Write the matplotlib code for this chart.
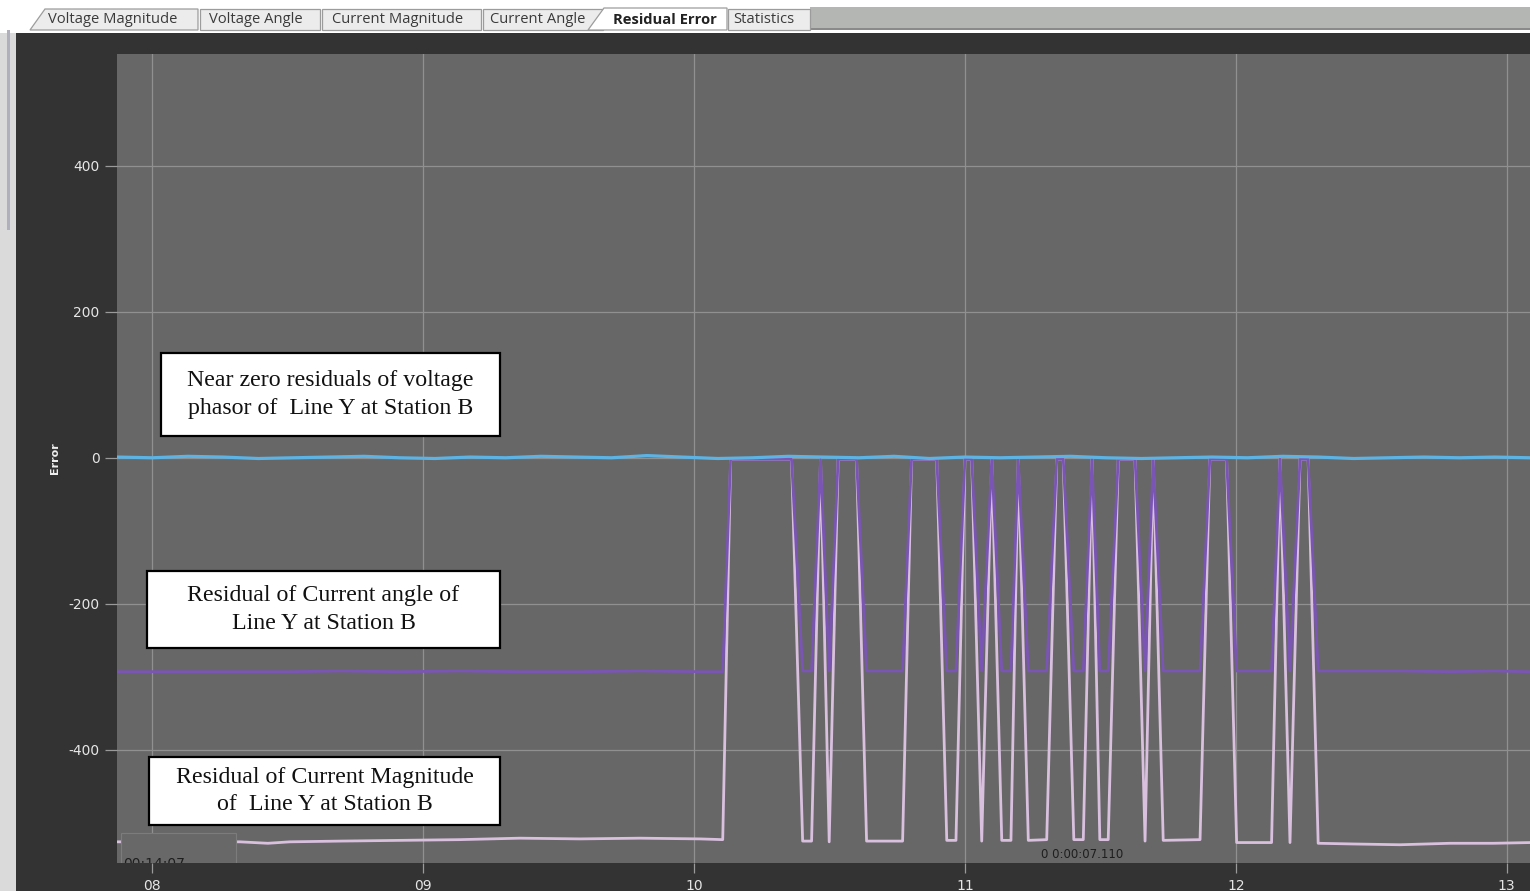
import numpy as np
import matplotlib.pyplot as plt
from matplotlib.patches import Rectangle, Polygon

plt.rcParams["axes.unicode_minus"] = False

# ---- residual traces (time in seconds, error in raw units) ----
# voltage phasor residual, sampled evenly over the window
volt_resid = [1, 0, 2, 1, -1, 0, 1, 2, 0, -1, 1, 0, 2, 1, 0, 3, 1, -1, 0, 2, 1,
              0, 2, -1, 1, 0, 1, 2, 0, -1, 0, 1, 0, 2, 1, -1, 0, 1, 0, 1, 0]

# current angle / magnitude residuals share the same sample times
event_t = [7.870, 8.324, 8.427, 8.508, 8.693, 8.914, 9.136, 9.357, 9.579, 9.800,
           10.022, 10.106, 10.135, 10.360, 10.401, 10.434, 10.467, 10.499, 10.532,
           10.600, 10.637, 10.770, 10.803, 10.896, 10.933, 10.967, 11.000, 11.025,
           11.062, 11.099, 11.136, 11.170, 11.197, 11.234, 11.302, 11.339, 11.363,
           11.402, 11.437, 11.469, 11.498, 11.529, 11.566, 11.628, 11.665, 11.695,
           11.732, 11.868, 11.904, 11.966, 12.003, 12.132, 12.163, 12.200, 12.237,
           12.267, 12.304, 12.443, 12.606, 12.790, 12.950, 13.086]
angle_resid = [-293, -293, -293, -293, -292, -293, -292, -293, -293, -292,
               -293, -293, -2, -2, -292, -292, -2, -292, -2,
               -2, -292, -292, -2, -2, -292, -292, -2, -2,
               -292, -2, -292, -292, -2, -292, -292, -2, -2,
               -292, -292, -2, -292, -292, -2, -2, -292, -2,
               -292, -292, -2, -2, -292, -292, -2, -292, -2,
               -2, -292, -292, -292, -293, -292, -293]
mag_resid = [-526, -526, -528, -526, -525, -524, -523, -521, -522, -521,
             -522, -523, -2, -2, -525, -525, -2, -526, -2,
             -2, -525, -525, -2, -2, -524, -524, -2, -2,
             -525, -2, -524, -524, -2, -524, -523, -2, -2,
             -523, -523, -2, -523, -523, -2, -2, -525, -2,
             -524, -523, -2, -2, -527, -527, -2, -527, -2,
             -2, -528, -529, -530, -528, -528, -527]

x_ticks = [8, 9, 10, 11, 12, 13]
y_ticks = [-400, -200, 0, 200, 400]
tab_names = ["Voltage Magnitude", "Voltage Angle", "Current Magnitude",
             "Current Angle", "Residual Error", "Statistics"]
notes = ["Near zero residuals of voltage\nphasor of  Line Y at Station B",
         "Residual of Current angle of\nLine Y at Station B",
         "Residual of Current Magnitude\nof  Line Y at Station B"]

W, H = 1530, 891
fig = plt.figure(figsize=(W / 100, H / 100), dpi=100, facecolor="#333333")

# main plot area
ax = fig.add_axes([117 / W, 1 - 863 / H, (W - 117) / W, (863 - 54) / H])
ax.set_facecolor("#676767")
ax.set_xlim(7.870, 13.086)
ax.set_ylim(-555, 553)
for s in ax.spines.values():
    s.set_visible(False)
ax.grid(True, color="#909090", lw=0.9)
ax.set_axisbelow(True)

ax.set_xticks(x_ticks)
ax.set_xticklabels([f"{t:02d}" for t in x_ticks])
ax.set_yticks(y_ticks)
ax.set_yticklabels([str(v) for v in y_ticks])
ax.tick_params(axis="y", length=8.6, width=0.9, color="#9a9a9a", pad=4,
               labelcolor="#e6e6e6", labelsize=10)
ax.tick_params(axis="x", length=7.2, width=0.9, color="#9a9a9a", pad=4,
               labelcolor="#e6e6e6", labelsize=10)
ax.set_ylabel("Error", color="#f0f0f0", fontsize=8, fontweight="bold")
ax.yaxis.set_label_coords(-0.040, 0.5)

volt_t = np.linspace(7.870, 13.086, len(volt_resid))
ax.plot(event_t, mag_resid, color="#d8c0de", lw=2.0, zorder=2)
ax.plot(event_t, angle_resid, color="#7b55b4", lw=2.0, zorder=3)
ax.plot(volt_t, volt_resid, color="#5db3e4", lw=2.3, zorder=3)

# time stamp panel in the lower left corner (label runs off the bottom edge)
ax.add_patch(Rectangle((0.0028, 0.0), 0.0814, 0.0371, transform=ax.transAxes,
                       facecolor="#686868", edgecolor="#7c7c7c", lw=0.8, zorder=4))
ax.text(0.0045, -0.0015, "00:14:07", transform=ax.transAxes, fontsize=10,
        color="#1e1e1e", va="center", ha="left", zorder=5, clip_on=True)
ax.text(0.683, 0.0099, "0 0:00:07.110", transform=ax.transAxes, fontsize=8.5,
        color="#1e1e1e", va="center", ha="center", zorder=5)

# window chrome and annotation boxes, drawn in pixel units
ov = fig.add_axes([0, 0, 1, 1], zorder=5)
ov.set_xlim(0, W)
ov.set_ylim(H, 0)
ov.axis("off")

ov.add_patch(Rectangle((0, 0), W, 33, facecolor="white", edgecolor="none"))
ov.add_patch(Rectangle((810, 7), W - 810, 21, facecolor="#b4b6b4", edgecolor="none"))
ov.add_patch(Rectangle((810, 28), W - 810, 1.5, facecolor="#8a8a8a", edgecolor="none"))
ov.add_patch(Rectangle((0, 33), 16, H - 33, facecolor="#dadada", edgecolor="none"))
ov.add_patch(Rectangle((7, 30), 3, 200, facecolor="#b0b0bc", edgecolor="none"))

tab_shapes = [
    [(30, 30), (45, 9), (198, 9), (198, 30)],
    [(200, 30), (200, 9), (320, 9), (320, 30)],
    [(322, 30), (322, 9), (481, 9), (481, 30)],
    [(483, 30), (483, 9), (603, 9), (603, 30)],
    [(588, 30), (604, 8), (727, 8), (727, 30)],
    [(728, 30), (728, 9), (810, 9), (810, 30)],
]
tab_x = [113, 256, 398, 538, 665, 764]
for name, shape, tx in zip(tab_names, tab_shapes, tab_x):
    selected = name == "Residual Error"
    ov.add_patch(Polygon(shape, closed=True,
                         facecolor="white" if selected else "#ececec",
                         edgecolor="#9c9c9c", lw=0.9, zorder=3 if selected else 2))
    ov.text(tx, 19.5, name, ha="center", va="center", fontsize=10.6,
            family="Open Sans", color="#222222" if selected else "#3a3a3a",
            fontweight="bold" if selected else "normal", zorder=4)

note_boxes = [(161, 353, 500, 436), (147, 571, 500, 648), (149, 757, 500, 825)]
for text, (x0, y0, x1, y1) in zip(notes, note_boxes):
    ov.add_patch(Rectangle((x0, y0), x1 - x0, y1 - y0, facecolor="white",
                           edgecolor="black", lw=1.6, zorder=6))
    ov.text((x0 + x1) / 2, (y0 + y1) / 2, text, ha="center", va="center",
            fontsize=17.2, family="Liberation Serif", color="#111111",
            linespacing=1.38, zorder=7)

fig.savefig("out.png", dpi=100, facecolor=fig.get_facecolor())
